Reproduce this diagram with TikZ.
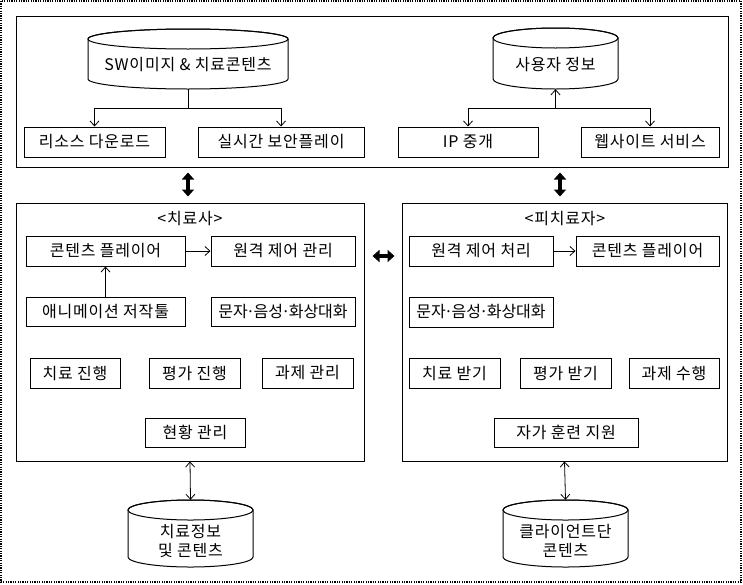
\documentclass[tikz,border=0pt]{standalone}
\usepackage{fontspec}
\setmainfont{Noto Sans CJK KR}[LetterSpace=5]
\newfontfamily\tightfont{Noto Sans CJK KR}
\newcommand\md{\kern-0.1em·\kern-0.1em}
\usetikzlibrary{arrows.meta}
\tikzset{
  txt/.style={font=\fontsize{16pt}{19pt}\selectfont, inner sep=0pt, align=center, text=black},
  boxframe/.style={draw=black, line width=1pt, inner sep=0pt, font=\fontsize{16pt}{19pt}\selectfont, text=black},
  tight/.style={font=\fontsize{16pt}{19pt}\tightfont},
  hidden/.style={inner sep=0pt, draw=none},
  arr/.style={draw=black, line width=0.8pt, -{Straight Barb[length=5pt,width=9pt]}},
  arrboth/.style={draw=black, line width=0.8pt, {Straight Barb[length=5pt,width=9pt]}-{Straight Barb[length=5pt,width=9pt]}},
  plain/.style={draw=black, line width=0.8pt},
  fat/.style={draw=black, line width=4pt, {Triangle[length=7pt,width=12pt]}-{Triangle[length=7pt,width=12pt]}},
  outer/.style={draw=black, line width=1.8pt, dash pattern=on 1.2pt off 1.2pt},
}
% box: [options] name, x1, y1, x2, y2, text   (pixel coordinates, y downward)
\newcommand\mkbox[7][]{%
  \node[boxframe, minimum width={#5pt-#3pt}, minimum height={#6pt-#4pt}, #1] (#2) at ({(#3+#5)/2},{-(#4+#6)/2}) {#7};}
% cylinder: name, x1, y1, x2, y2, text offset, text
\newcommand\mkcyl[7]{%
  \draw[line width=1pt, fill=white] (#2,{-#3-10}) -- (#2,{-#5+10})
    arc[start angle=180, end angle=360, x radius={(#4-#2)/2}, y radius=10]
    -- (#4,{-#3-10})
    arc[start angle=0, end angle=180, x radius={(#4-#2)/2}, y radius=10] -- cycle;
  \draw[line width=1pt] ({(#2+#4)/2},{-#3-10}) ellipse[x radius={(#4-#2)/2}, y radius=10];
  \node[hidden, minimum width={#4pt-#2pt}, minimum height={#5pt-#3pt}] (#1) at ({(#2+#4)/2},{-(#3+#5)/2}) {};
  \node[txt] (#1t) at ([yshift=-#6pt]#1.center) {#7};}
\begin{document}
\begin{tikzpicture}[x=1pt, y=1pt]
\useasboundingbox (0,0) rectangle (743,-584);
\draw[outer] (1,-1) rectangle (741,-582);

% containers
\mkbox{top}{16}{16}{728}{167}{}
\mkbox{left}{16}{203}{364}{461}{}
\mkbox{right}{402}{203}{727}{461}{}
\node[txt] (ltitle) at (190,-219) {<치료사>};
\node[txt] (rtitle) at (565,-219) {<피치료자>};

% top region
\mkcyl{cswc}{88}{29}{288}{89}{6}{SW이미지 \& 치료콘텐츠}
\mkcyl{cuser}{493}{28}{618}{89}{6}{사용자 정보}
\mkbox{rd}{24}{127}{165}{157}{리소스 다운로드}
\mkbox{sp}{198}{127}{364}{157}{실시간 보안플레이}
\mkbox{ip}{398}{127}{538}{157}{IP 중개}
\mkbox{ws}{581}{127}{719}{157}{웹사이트 서비스}

% therapist side
\mkbox{lcp}{26}{236}{185}{266}{콘텐츠 플레이어}
\mkbox{lrc}{211}{236}{355}{266}{원격 제어 관리}
\mkbox{lan}{26}{297}{185}{326}{애니메이션 저작툴}
\mkbox[tight]{lch}{211}{297}{355}{326}{문자\md 음성\md 화상대화}
\mkbox{ltr}{30}{358}{120}{388}{치료 진행}
\mkbox{lev}{149}{358}{240}{388}{평가 진행}
\mkbox{lhw}{262}{358}{353}{388}{과제 관리}
\mkbox{lst}{145}{418}{245}{447}{현황 관리}

% client side
\mkbox{rrc}{409}{236}{553}{266}{원격 제어 처리}
\mkbox{rcp}{576}{236}{719}{266}{콘텐츠 플레이어}
\mkbox[tight]{rch}{409}{297}{553}{327}{문자\md 음성\md 화상대화}
\mkbox{rtr}{409}{358}{500}{388}{치료 받기}
\mkbox{rev}{520}{358}{611}{388}{평가 받기}
\mkbox{rhw}{629}{358}{719}{388}{과제 수행}
\mkbox{rst}{494}{418}{638}{447}{자가 훈련 지원}

% bottom databases
\mkcyl{cther}{128}{500}{253}{567}{7}{치료정보\\및 콘텐츠}
\mkcyl{ccli}{503}{500}{628}{567}{7}{클라이언트단\\콘텐츠}

% connectors top
\coordinate (j1) at (cswc.south |- 0,-108);
\draw[plain] (cswc.south) -- (j1);
\draw[arr] (j1) -| (rd.north);
\draw[arr] (j1) -| (sp.north);
\coordinate (j2) at (cuser.south |- 0,-108);
\draw[arr] (j2) -- (cuser.south);
\draw[arr] (j2) -| (ip.north);
\draw[arr] (j2) -| (ws.north);

% inner connectors
\draw[arr] (lan.north) -- (lcp.south);
\draw[arr] (lcp.east) -- (lrc.west);
\draw[arr] (rrc.east) -- (rcp.west);

% database links
\draw[arrboth] (left.south) -- (cther.north);
\draw[arrboth] (right.south) -- (ccli.north);

% fat arrows
\coordinate (fa1) at ([yshift=-5pt]top.south -| cswc.south);
\coordinate (fb1) at ([yshift=6pt]left.north);
\draw[fat] (fa1) -- (fa1 |- fb1);
\coordinate (fa2) at ([xshift=188pt, yshift=-5pt]top.south);
\coordinate (fb2) at ([yshift=6pt]right.north);
\draw[fat] (fa2) -- (fa2 |- fb2);
\coordinate (fa3) at ([xshift=8pt]left.east);
\coordinate (fb3) at ([xshift=-7pt]right.west);
\draw[fat] (fa3 |- 0,-256) -- (fb3 |- 0,-256);
\end{tikzpicture}
\end{document}
